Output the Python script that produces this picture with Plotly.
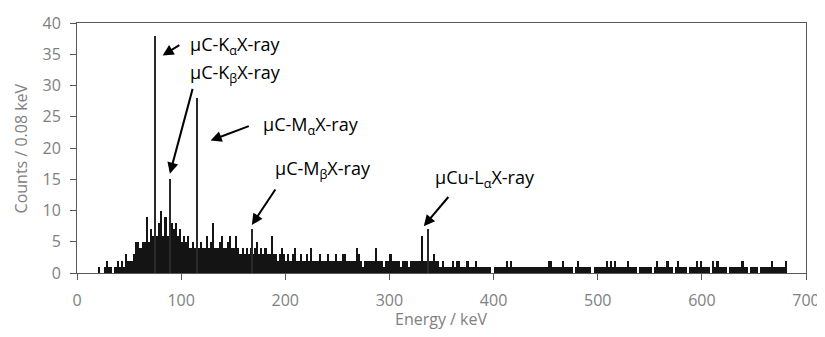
import numpy as np
import plotly.graph_objects as go

# Continuum counts in 2 keV bins, left edges 20, 22, ..., 680 keV
bin_start = 20
bin_width = 2
continuum = [
    1, 0, 0, 1, 2, 1, 1, 0, 1, 2,      # 20-38
    1, 2, 1, 3, 2, 2, 2, 3, 5, 5,      # 40-58
    4, 5, 5, 9, 5, 7, 6, 6, 6, 8,      # 60-78
    10, 6, 9, 6, 6, 8, 7, 8, 6, 7,     # 80-98
    5, 6, 5, 6, 4, 5, 4, 4, 4, 5,      # 100-118
    4, 4, 6, 4, 5, 8, 4, 4, 5, 6,      # 120-138
    4, 4, 5, 6, 4, 4, 6, 4, 3, 4,      # 140-158
    3, 4, 3, 4, 3, 4, 5, 3, 4, 3,      # 160-178
    4, 3, 3, 6, 3, 3, 2, 3, 4, 3,      # 180-198
    2, 3, 2, 3, 4, 2, 2, 3, 2, 2,      # 200-218
    3, 2, 4, 2, 2, 2, 3, 2, 2, 2,      # 220-238
    3, 2, 2, 2, 3, 2, 2, 3, 3, 2,      # 240-258
    2, 2, 2, 2, 4, 3, 2, 1, 2, 2,      # 260-278
    2, 2, 2, 4, 2, 2, 2, 1, 2, 2,      # 280-298
    3, 2, 2, 2, 2, 1, 2, 2, 2, 1,      # 300-318
    2, 2, 2, 2, 2, 6, 2, 2, 2, 2,      # 320-338
    2, 3, 2, 2, 1, 2, 1, 1, 1, 1,      # 340-358
    2, 1, 2, 2, 1, 1, 1, 2, 1, 1,      # 360-378
    1, 2, 1, 1, 1, 1, 1, 1, 1, 0,      # 380-398
    1, 1, 1, 1, 1, 1, 2, 1, 2, 1,      # 400-418
    1, 1, 1, 1, 1, 1, 1, 1, 1, 1,      # 420-438
    1, 1, 1, 1, 1, 1, 2, 2, 1, 1,      # 440-458
    1, 1, 1, 2, 1, 1, 1, 1, 0, 1,      # 460-478
    2, 1, 1, 1, 1, 1, 1, 0, 1, 1,      # 480-498
    1, 1, 1, 1, 2, 1, 2, 1, 2, 1,      # 500-518
    1, 1, 1, 1, 2, 1, 1, 1, 1, 0,      # 520-538
    1, 1, 1, 1, 1, 1, 0, 1, 2, 1,      # 540-558
    1, 1, 1, 2, 1, 1, 0, 1, 2, 1,      # 560-578
    1, 1, 1, 0, 1, 1, 1, 2, 1, 2,      # 580-598
    1, 1, 1, 1, 0, 2, 1, 2, 1, 1,      # 600-618
    1, 1, 0, 1, 1, 1, 1, 1, 1, 2,      # 620-638
    1, 1, 0, 1, 1, 1, 1, 0, 1, 1,      # 640-658
    1, 1, 1, 2, 1, 1, 1, 1, 1, 1,      # 660-678
    2,                                 # 680
]

# Narrow X-ray lines
peak_energy = [74.6, 88.9, 115.3, 167.9, 336.8]
peak_counts = [38, 15, 28, 7, 7]

# Labels for the lines
label_text = ["μC-K<sub>α</sub>X-ray", "μC-K<sub>β</sub>X-ray", "μC-M<sub>α</sub>X-ray",
              "μC-M<sub>β</sub>X-ray", "μCu-L<sub>α</sub>X-ray"]
label_x = [107.0, 107.0, 176.5, 188.0, 341.5]
label_y = [36.4, 31.9, 23.6, 16.6, 15.2]
arrow_head_x = [82.2, 89.2, 128.3, 167.9, 333.0]
arrow_head_y = [34.8, 15.9, 21.2, 7.7, 7.5]
arrow_tail_x = [99.7, 111.4, 166.4, 191.4, 357.8]
arrow_tail_y = [36.6, 29.7, 23.6, 13.6, 12.4]

x_ticks = [0, 100, 200, 300, 400, 500, 600, 700]
y_ticks = [0, 5, 10, 15, 20, 25, 30, 35, 40]
x_title = "Energy / keV"
y_title = "Counts / 0.08 keV"

centers = bin_start + bin_width / 2 + bin_width * np.arange(len(continuum))

fig = go.Figure()
fig.add_trace(go.Bar(x=centers, y=continuum, width=bin_width,
                     marker=dict(color="#141414", line=dict(width=0)),
                     showlegend=False))
fig.add_trace(go.Bar(x=peak_energy, y=peak_counts, width=1.1,
                     marker=dict(color="#2a2a2a", line=dict(width=0)),
                     showlegend=False))

for tx, ty, t in zip(label_x, label_y, label_text):
    fig.add_annotation(x=tx, y=ty, text=t, showarrow=False, xanchor="left",
                       yanchor="middle",
                       font=dict(family="Open Sans", size=18, color="#000000"))
for hx, hy, sx, sy in zip(arrow_head_x, arrow_head_y, arrow_tail_x, arrow_tail_y):
    fig.add_annotation(x=hx, y=hy, ax=sx, ay=sy, axref="x", ayref="y",
                       text="", showarrow=True, arrowhead=2, arrowsize=1.1,
                       arrowwidth=2, arrowcolor="#000000")

grey = "#808080"
fig.add_annotation(xref="paper", yref="paper", x=0.5, y=-0.184, text=x_title,
                   showarrow=False, xanchor="center", yanchor="middle",
                   font=dict(family="Open Sans", size=16, color=grey))
fig.add_annotation(xref="paper", yref="paper", x=-0.0762, y=0.5, text=y_title,
                   showarrow=False, xanchor="center", yanchor="middle", textangle=-90,
                   font=dict(family="Open Sans", size=16, color=grey))

axis_common = dict(showgrid=False, zeroline=False, showline=True,
                   linecolor="#595959", linewidth=1, mirror=True,
                   ticks="outside", ticklen=6, tickcolor="#595959",
                   tickfont=dict(family="Open Sans", size=16, color=grey))

fig.update_layout(
    width=817, height=321,
    margin=dict(l=69, r=19, t=15, b=56, autoexpand=False),
    paper_bgcolor="white", plot_bgcolor="white",
    barmode="overlay", bargap=0,
    font=dict(family="Open Sans"),
    xaxis=dict(range=[0, 700], tickvals=x_ticks, ticklabelstandoff=7,
               **axis_common),
    yaxis=dict(range=[0, 40], tickvals=y_ticks, ticklabelstandoff=6,
               **axis_common),
)

fig.write_html("out.html")
